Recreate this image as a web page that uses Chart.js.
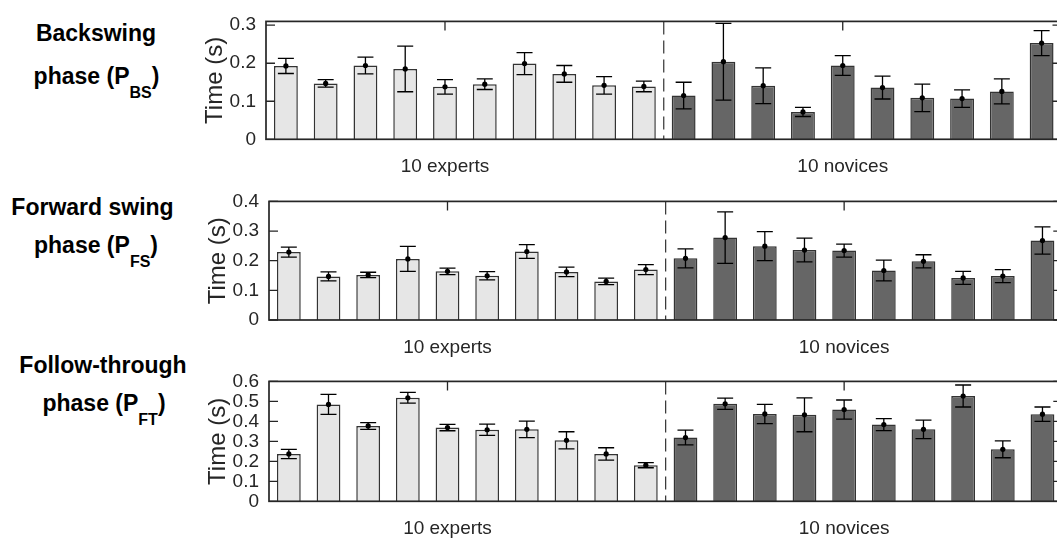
<!DOCTYPE html>
<html>
<head>
<meta charset="utf-8">
<script src="https://cdn.jsdelivr.net/npm/chart.js@4.4.1/dist/chart.umd.min.js"></script>
<style>
    html, body { margin: 0; padding: 0; overflow: hidden; background: #fff; width: 1057px; height: 542px; }
    .panel { position: absolute; left: 0; }
    .ttl {
        position: absolute; width: 220px; text-align: center; white-space: nowrap;
        font: bold 23px/23px 'Liberation Sans', Arial, sans-serif; color: #000;
    }
    .ttl .sub { font-size: 16px; position: relative; top: 14px; }
</style>
</head>
<body>
<div class="ttl" style="left:-14px; top:22px">Backswing</div>
<div class="ttl" style="left:-13.5px; top:64.5px">phase (P<span class="sub">BS</span>)</div>
<div class="ttl" style="left:-17.5px; top:195.5px">Forward swing</div>
<div class="ttl" style="left:-14px; top:233.5px">phase (P<span class="sub">FS</span>)</div>
<div class="ttl" style="left:-7px; top:353.5px">Follow-through</div>
<div class="ttl" style="left:-6px; top:391.5px">phase (P<span class="sub">FT</span>)</div>

<canvas id="chartBS" class="panel" width="1080" height="182" style="top:0px"></canvas>
<canvas id="chartFS" class="panel" width="1080" height="182" style="top:180px"></canvas>
<canvas id="chartFT" class="panel" width="1080" height="182" style="top:360px"></canvas>

<script>
// subjects, one bar each
const categories = ['E1', 'E2', 'E3', 'E4', 'E5', 'E6', 'E7', 'E8', 'E9', 'E10',
                    'N1', 'N2', 'N3', 'N4', 'N5', 'N6', 'N7', 'N8', 'N9', 'N10'];
const groupLabels = ['10 experts', '10 novices'];
const groupTickIndex = [4, 14];

// backswing phase (s): mean and SD
const bsExpertMean = [0.193, 0.147, 0.194, 0.185, 0.138, 0.145, 0.199, 0.172, 0.142, 0.139];
const bsExpertSd   = [0.020, 0.010, 0.022, 0.060, 0.019, 0.014, 0.029, 0.022, 0.023, 0.014];
const bsNoviceMean = [0.115, 0.204, 0.141, 0.072, 0.194, 0.136, 0.109, 0.107, 0.126, 0.253];
const bsNoviceSd   = [0.035, 0.101, 0.047, 0.012, 0.026, 0.030, 0.036, 0.023, 0.033, 0.033];
const bsTicks = [0, 0.1, 0.2, 0.3];

// forward swing phase (s)
const fsExpertMean = [0.229, 0.147, 0.152, 0.206, 0.164, 0.149, 0.231, 0.162, 0.130, 0.170];
const fsExpertSd   = [0.017, 0.015, 0.009, 0.042, 0.011, 0.014, 0.023, 0.016, 0.011, 0.017];
const fsNoviceMean = [0.208, 0.278, 0.249, 0.236, 0.234, 0.167, 0.198, 0.142, 0.148, 0.268];
const fsNoviceSd   = [0.032, 0.087, 0.049, 0.040, 0.022, 0.035, 0.022, 0.022, 0.022, 0.046];
const fsTicks = [0, 0.1, 0.2, 0.3, 0.4];

// follow-through phase (s)
const ftExpertMean = [0.237, 0.485, 0.377, 0.518, 0.369, 0.358, 0.360, 0.305, 0.237, 0.181];
const ftExpertSd   = [0.023, 0.050, 0.017, 0.027, 0.016, 0.028, 0.041, 0.043, 0.031, 0.013];
const ftNoviceMean = [0.319, 0.488, 0.437, 0.433, 0.459, 0.384, 0.360, 0.527, 0.260, 0.436];
const ftNoviceSd   = [0.037, 0.028, 0.048, 0.085, 0.048, 0.030, 0.046, 0.055, 0.042, 0.036];
const ftTicks = [0, 0.1, 0.2, 0.3, 0.4, 0.5, 0.6];

const fontFamily = "'Liberation Sans', Arial, sans-serif";
const axisColor = '#262626';
const expertFill = '#e6e6e6';
const noviceFill = '#666666';
const barEdge = '#333333';
const capHalf = 8;
const tickLen = 9;

Chart.defaults.font.family = fontFamily;

// error bars go on top of the bars but under the mean dots
const errorBarPlugin = {
    id: 'errorBars',
    afterDatasetDraw: function (chart, args) {
        const ds = chart.data.datasets[args.index];
        if (!ds.errors) {
            return;
        }
        const y = chart.scales.y;
        const ctx = chart.ctx;
        ctx.save();
        ctx.strokeStyle = '#000';
        ctx.lineWidth = 1.3;
        args.meta.data.forEach(function (bar, i) {
            const top = y.getPixelForValue(ds.data[i] + ds.errors[i]);
            const bot = y.getPixelForValue(ds.data[i] - ds.errors[i]);
            ctx.beginPath();
            ctx.moveTo(bar.x, top);
            ctx.lineTo(bar.x, bot);
            ctx.moveTo(bar.x - capHalf, top);
            ctx.lineTo(bar.x + capHalf, top);
            ctx.moveTo(bar.x - capHalf, bot);
            ctx.lineTo(bar.x + capHalf, bot);
            ctx.stroke();
        });
        ctx.restore();
    }
};

// box, inward ticks, and the dashed line between the two groups
const boxPlugin = {
    id: 'matlabBox',
    afterDraw: function (chart) {
        const ctx = chart.ctx;
        const a = chart.chartArea;
        const x = chart.scales.x;
        const y = chart.scales.y;
        const split = chart.options.plugins.matlabBox.split;
        ctx.save();

        const sepX = (x.getPixelForValue(split - 1) + x.getPixelForValue(split)) / 2;
        ctx.strokeStyle = '#333';
        ctx.lineWidth = 1.2;
        ctx.setLineDash([13, 6]);
        ctx.beginPath();
        ctx.moveTo(sepX, a.top);
        ctx.lineTo(sepX, a.bottom);
        ctx.stroke();
        ctx.setLineDash([]);

        ctx.strokeStyle = axisColor;
        ctx.lineWidth = 1.3;
        ctx.beginPath();
        y.ticks.forEach(function (t) {
            const py = y.getPixelForValue(t.value);
            ctx.moveTo(a.left, py);
            ctx.lineTo(a.left + tickLen, py);
            ctx.moveTo(a.right, py);
            ctx.lineTo(a.right - tickLen, py);
        });
        groupTickIndex.forEach(function (i) {
            const px = x.getPixelForValue(i);
            ctx.moveTo(px, a.top);
            ctx.lineTo(px, a.top + tickLen);
        });
        ctx.stroke();

        ctx.lineWidth = 1.7;
        ctx.strokeRect(a.left, a.top, a.right - a.left, a.bottom - a.top);
        ctx.restore();
    }
};

function createPanel(canvasId, panel) {
    const means = panel.expertMean.concat(panel.noviceMean);
    const errors = panel.expertSd.concat(panel.noviceSd);
    const colors = categories.map(function (c, i) {
        return i < panel.expertMean.length ? expertFill : noviceFill;
    });

    return new Chart(document.getElementById(canvasId), {
        type: 'bar',
        data: {
            labels: categories,
            datasets: [
                {
                    data: means,
                    errors: errors,
                    backgroundColor: colors,
                    borderColor: barEdge,
                    borderWidth: 1.5,
                    barPercentage: 0.6,
                    categoryPercentage: 1,
                    order: 2
                },
                {
                    type: 'line',
                    data: means,
                    showLine: false,
                    pointRadius: 2.6,
                    pointBackgroundColor: '#000',
                    pointBorderWidth: 0,
                    order: 1
                }
            ]
        },
        options: {
            responsive: false,
            devicePixelRatio: 1,
            animation: false,
            events: [],
            layout: {
                padding: { top: 11, left: panel.padLeft, right: panel.padRight, bottom: 0 }
            },
            plugins: {
                legend: { display: false },
                tooltip: { enabled: false },
                matlabBox: { split: panel.expertMean.length }
            },
            scales: {
                x: {
                    grid: { display: false, drawTicks: false },
                    border: { display: false },
                    ticks: {
                        autoSkip: false,
                        maxRotation: 0,
                        minRotation: 0,
                        padding: 16,
                        color: axisColor,
                        font: { size: 19 },
                        callback: function (value, index) {
                            const k = groupTickIndex.indexOf(index);
                            return k >= 0 ? groupLabels[k] : '';
                        }
                    },
                    afterFit: function (scale) {
                        scale.height = panel.xAxisHeight;
                    }
                },
                y: {
                    min: 0,
                    max: panel.yMax,
                    grid: { display: false, drawTicks: false },
                    border: { display: false },
                    afterBuildTicks: function (scale) {
                        scale.ticks = panel.ticks.map(function (v) {
                            return { value: v };
                        });
                    },
                    ticks: {
                        autoSkip: false,
                        padding: 10,
                        color: axisColor,
                        font: { size: 19 },
                        callback: function (value) {
                            return String(value);
                        }
                    },
                    title: {
                        display: true,
                        text: 'Time (s)',
                        color: axisColor,
                        font: { size: 24 },
                        padding: { top: 6, bottom: 0 }
                    },
                    afterFit: function (scale) {
                        scale.width = 71;
                    }
                }
            }
        },
        plugins: [errorBarPlugin, boxPlugin]
    });
}

createPanel('chartBS', {
    expertMean: bsExpertMean, expertSd: bsExpertSd,
    noviceMean: bsNoviceMean, noviceSd: bsNoviceSd, ticks: bsTicks,
    yMax: 0.31, padLeft: 195, padRight: 18.5, xAxisHeight: 42.7
});
createPanel('chartFS', {
    expertMean: fsExpertMean, expertSd: fsExpertSd,
    noviceMean: fsNoviceMean, noviceSd: fsNoviceSd, ticks: fsTicks,
    yMax: 0.4, padLeft: 198, padRight: 17.7, xAxisHeight: 42
});
createPanel('chartFT', {
    expertMean: ftExpertMean, expertSd: ftExpertSd,
    noviceMean: ftNoviceMean, noviceSd: ftNoviceSd, ticks: ftTicks,
    yMax: 0.6, padLeft: 198, padRight: 17.7, xAxisHeight: 40.7
});
</script>
</body>
</html>
